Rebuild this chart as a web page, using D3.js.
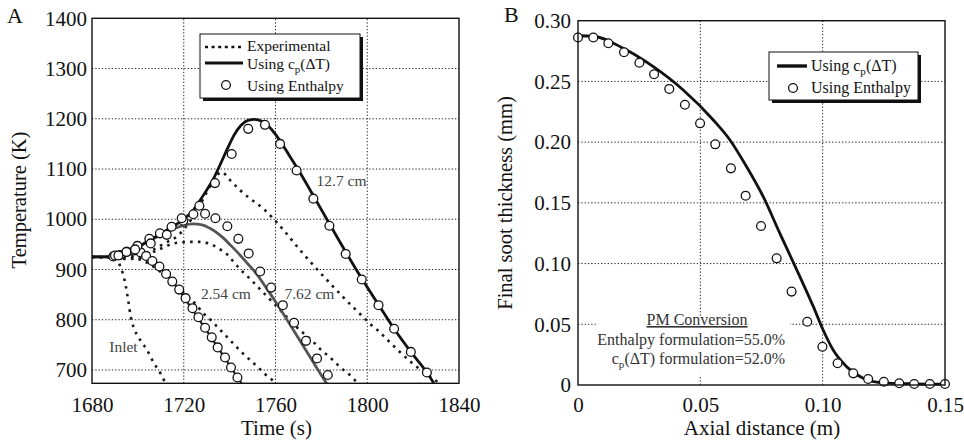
<!DOCTYPE html>
<html><head><meta charset="utf-8">
<script src="https://cdn.jsdelivr.net/npm/d3@7/dist/d3.min.js"></script>
<style>
body{margin:0;background:#fff}
svg{display:block}
text{font-family:"Liberation Serif","Times New Roman",serif}
</style>
</head><body>
<svg id="c" width="964" height="445"></svg>
<script>
// ---------- Panel A data ----------
const timeTicks = [1680, 1720, 1760, 1800, 1840];
const tempTicks = [700, 800, 900, 1000, 1100, 1200, 1300, 1400];

// Experimental (dotted) [time s, temperature K]
const expInlet = [[1680,925],[1690,925],[1691.3,918],[1692.2,908],[1693.7,888],[1694.7,868],[1695.8,838],[1696.9,806],[1698.7,779],[1701.7,755],[1704.1,739],[1706,722],[1708.2,705],[1710,692],[1711.8,676],[1712.2,672]];
const exp254 = [[1680,925],[1690,925],[1695,926],[1700,921],[1705,911],[1710,895],[1715,876],[1720,854],[1725.6,829],[1728.5,813],[1732.2,798],[1735,784],[1738,770],[1740.9,756],[1743.8,742],[1746.7,729],[1749.6,717],[1752.5,705],[1755.4,692],[1758.3,681],[1760,674]];
const exp762 = [[1680,925],[1690,924],[1695,921],[1700,922],[1704,929],[1708.2,938],[1711.8,945],[1714.7,951],[1719,954],[1723.4,955],[1727,955],[1730,953],[1732.9,948],[1736.5,938],[1739.4,928],[1741.6,916],[1744.5,901],[1747.4,888],[1750.3,875],[1753,862],[1756.2,847],[1760,829],[1765,805],[1770.7,779],[1775.8,759],[1779.4,742],[1784.5,722],[1788.1,706],[1792.2,691],[1794.6,680],[1795.8,674]];
const exp127 = [[1680,925],[1690,924],[1700,928],[1706,938],[1712,953],[1717.6,968],[1722.7,996],[1727,1028],[1731,1062],[1734,1085],[1736.5,1094],[1740.2,1078],[1744.5,1058],[1748.1,1044],[1754.7,1021],[1763.4,979],[1771.2,936],[1778,901],[1780.8,887],[1783.7,873],[1789.5,845],[1795.4,818],[1798.3,805],[1801.2,792],[1804.8,778],[1807.7,765],[1812.8,742],[1820,712],[1828,685],[1832,672]];

// Using cp(dT) (solid)
const cp254 = [[1680,925],[1690,925],[1694,929],[1698,932],[1701,929],[1704,922],[1707,913],[1709.6,903],[1712.5,890],[1715.4,875],[1718,859],[1720.5,842],[1723.5,822],[1726.3,803],[1729.3,783],[1732.2,763],[1735,744],[1738,723],[1740.5,706],[1742.3,693],[1745.3,673]];
const cp762 = [[1680,925],[1688,925],[1692,929],[1696,936],[1700,945],[1705,957],[1710,969],[1715,980],[1720,988],[1724,991],[1728,989],[1731.4,982],[1734.5,973],[1737.2,963],[1740.5,948],[1744.5,929],[1748,911],[1751.8,891],[1756.2,862],[1762,822],[1768,778],[1774,734],[1778,704],[1782.3,673]];
const cp127 = [[1680,925],[1688,925],[1692,928],[1696,935],[1700,944],[1704.5,957],[1710,971],[1715,985],[1720,1000],[1724,1017],[1727,1037],[1730,1058],[1733,1081],[1736,1110],[1739,1140],[1742,1168],[1745,1187],[1748,1197],[1751,1199],[1754,1195],[1757,1185],[1760,1169],[1763,1149],[1766,1127],[1769.2,1104],[1776.5,1047],[1783.5,991],[1790.6,935],[1797.6,882],[1804.9,830],[1811.7,782],[1819,736],[1826,695],[1829,674]];

// Using Enthalpy (circles)
const enth254 = [[1689.3,926],[1692.3,929],[1695.2,935],[1698.5,938],[1701.2,934],[1703.6,927],[1706.3,917],[1709.4,906],[1712.3,891],[1715.0,876],[1718.0,860],[1720.8,843],[1723.8,823],[1726.4,805],[1729.3,784],[1732.2,765],[1734.8,745],[1738.0,725],[1740.6,705],[1743.4,685]];
const enth762 = [[1690.0,928],[1695.0,935],[1699.8,947],[1705.0,961],[1709.6,972],[1714.7,985],[1719.8,997],[1724.2,1010],[1729.3,1011],[1733.8,1002],[1739.0,986],[1743.8,961],[1748.3,932],[1753.3,896],[1758.1,864],[1763.2,829],[1768.1,794],[1773.3,758],[1778.1,723],[1782.8,690]];
const enth127 = [[1691.5,928],[1698.8,940],[1705.6,952],[1712.6,969],[1719.1,1002],[1726.8,1027],[1733.6,1072],[1740.9,1130],[1748.1,1180],[1755.4,1188],[1762.0,1150],[1769.2,1097],[1776.5,1041],[1783.5,987],[1790.6,931],[1797.6,880],[1804.9,829],[1811.7,782],[1819.0,736],[1826.0,695]];

// label text, centre time, baseline temperature
const curveLabels = [["12.7 cm",1788.8,1067],["2.54 cm",1738.4,842],["7.62 cm",1774.8,842],["Inlet",1693.7,735]];

// ---------- Panel B data ----------
const distTicks = [0, 0.05, 0.10, 0.15];
const distTickLabels = ["0", "0.05", "0.10", "0.15"];
const sootTicks = [0, 0.05, 0.10, 0.15, 0.20, 0.25, 0.30];
const sootTickLabels = ["0", "0.05", "0.10", "0.15", "0.20", "0.25", "0.30"];

const distCp = [0,0.0063,0.0185,0.0308,0.043,0.0553,0.0621,0.0689,0.0757,0.0825,0.088,0.0962,0.1002,0.1043,0.1098,0.1166,0.1234,0.137,0.15];
const sootCp = [0.2876,0.2872,0.2773,0.2621,0.2429,0.2182,0.2018,0.1798,0.1551,0.1249,0.101,0.0645,0.0453,0.0288,0.0151,0.0055,0.002,0.001,0.0007];
const distEnth = [0,0.00626,0.0124,0.0188,0.0251,0.0311,0.0373,0.0437,0.0499,0.0561,0.0625,0.0685,0.0748,0.0812,0.0873,0.0937,0.0999,0.1061,0.1125,0.1186,0.1250,0.1313,0.1374,0.1438,0.15];
const sootEnth = [0.2862,0.2862,0.2814,0.274,0.2654,0.2559,0.2438,0.2308,0.2155,0.1982,0.1784,0.1559,0.1309,0.1043,0.0769,0.0521,0.0315,0.0179,0.0096,0.0049,0.0027,0.0014,0.0008,0.0008,0.0008];

const pmLines = ["PM Conversion", "Enthalpy formulation=55.0%", "formulation=52.0%"];

// ---------- Drawing ----------
const svg = d3.select("#c");
const FONT = '"Liberation Serif","Times New Roman",serif';

function cpText(sel, prefix, suffix, fs, sub) {
  sel.append("tspan").text(prefix + "c");
  sel.append("tspan").attr("dy", sub).attr("font-size", fs * 0.7).text("p");
  sel.append("tspan").attr("dy", -sub).text("(\u0394T)" + suffix);
}

function panelFrame(g, x, y) {
  const [x0, x1] = x.range(); const [y0, y1] = y.range();
  g.append("rect").attr("x", x0).attr("y", y1).attr("width", x1 - x0).attr("height", y0 - y1)
    .attr("fill", "none").attr("stroke", "#111").attr("stroke-width", 1.4);
}

function gridlines(g, x, y, xs, ys) {
  const [x0, x1] = x.range(); const [y0, y1] = y.range();
  g.selectAll(null).data(xs).enter().append("line")
    .attr("x1", d => x(d)).attr("x2", d => x(d)).attr("y1", y0).attr("y2", y1)
    .attr("stroke", "#222").attr("stroke-width", 1).attr("stroke-dasharray", "1.3,2");
  g.selectAll(null).data(ys).enter().append("line")
    .attr("y1", d => y(d)).attr("y2", d => y(d)).attr("x1", x0).attr("x2", x1)
    .attr("stroke", "#222").attr("stroke-width", 1).attr("stroke-dasharray", "1.3,2");
}

function styleAxis(g) {
  g.select(".domain").remove();
  g.selectAll("text").attr("font-family", FONT).attr("font-size", 21).attr("fill", "#111");
}

// ===== Panel A =====
const xA = d3.scaleLinear().domain([1680, 1840]).range([92, 459]);
const yA = d3.scaleLinear().domain([673.5, 1400]).range([383.3, 18.3]);
const gA = svg.append("g");

gridlines(gA, xA, yA, [1720, 1760, 1800], [700, 800, 900, 1000, 1100, 1200, 1300]);

gA.append("clipPath").attr("id", "clipA").append("rect")
  .attr("x", 92).attr("y", 18.3).attr("width", 367).attr("height", 365);

const lineA = d3.line().x(d => xA(d[0])).y(d => yA(d[1])).curve(d3.curveMonotoneX);
const plotA = gA.append("g").attr("clip-path", "url(#clipA)");

[expInlet, exp254, exp762, exp127].forEach(s => {
  plotA.append("path").attr("d", lineA(s)).attr("fill", "none")
    .attr("stroke", "#1a1a1a").attr("stroke-width", 2.6).attr("stroke-dasharray", "2.6,5.2");
});
plotA.append("path").attr("d", lineA(cp254)).attr("fill", "none").attr("stroke", "#222").attr("stroke-width", 2.2);
plotA.append("path").attr("d", lineA(cp762)).attr("fill", "none").attr("stroke", "#555").attr("stroke-width", 2.8);
plotA.append("path").attr("d", lineA(cp127)).attr("fill", "none").attr("stroke", "#111").attr("stroke-width", 2.8);

[enth254, enth762, enth127].forEach(s => {
  gA.selectAll(null).data(s).enter().append("circle")
    .attr("cx", d => xA(d[0])).attr("cy", d => yA(d[1])).attr("r", 4.4)
    .attr("fill", "#fff").attr("stroke", "#111").attr("stroke-width", 1.3);
});

gA.selectAll(null).data(curveLabels).enter().append("text")
  .attr("x", d => xA(d[1])).attr("y", d => yA(d[2]))
  .attr("text-anchor", "middle").attr("font-size", 15.5).attr("fill", "#444")
  .text(d => d[0]);

// Legend A
const legA = gA.append("g");
legA.append("rect").attr("x", 203).attr("y", 37).attr("width", 160).attr("height", 64).attr("fill", "#111");
legA.append("rect").attr("x", 200).attr("y", 34).attr("width", 160).attr("height", 64)
  .attr("fill", "#fff").attr("stroke", "#111").attr("stroke-width", 1);
legA.append("line").attr("x1", 205).attr("x2", 243).attr("y1", 47).attr("y2", 47)
  .attr("stroke", "#111").attr("stroke-width", 2.6).attr("stroke-dasharray", "3,3.6");
legA.append("line").attr("x1", 205).attr("x2", 243).attr("y1", 63).attr("y2", 63)
  .attr("stroke", "#111").attr("stroke-width", 3);
legA.append("circle").attr("cx", 226).attr("cy", 85).attr("r", 4.4)
  .attr("fill", "#fff").attr("stroke", "#111").attr("stroke-width", 1.3);
legA.append("text").attr("x", 247).attr("y", 51).attr("font-size", 15.5).attr("fill", "#111").text("Experimental");
cpText(legA.append("text").attr("x", 247).attr("y", 68.5).attr("font-size", 15.5).attr("fill", "#111"), "Using ", "", 15.5, 4);
legA.append("text").attr("x", 247).attr("y", 90.5).attr("font-size", 15.5).attr("fill", "#111").text("Using Enthalpy");

panelFrame(gA, xA, yA);

gA.append("g").attr("transform", "translate(0,383.3)")
  .call(d3.axisBottom(xA).tickValues(timeTicks).tickFormat(d3.format("d")).tickSize(0).tickPadding(13.5))
  .call(styleAxis);
gA.append("g").attr("transform", "translate(92,0)")
  .call(d3.axisLeft(yA).tickValues(tempTicks).tickFormat(d3.format("d")).tickSize(0).tickPadding(5))
  .call(styleAxis);

gA.append("text").attr("x", 276.5).attr("y", 435).attr("text-anchor", "middle").attr("font-size", 21).attr("fill", "#111").text("Time (s)");
gA.append("text").attr("transform", "translate(26,200) rotate(-90)").attr("text-anchor", "middle")
  .attr("font-size", 20.5).attr("fill", "#111").text("Temperature (K)");
gA.append("text").attr("x", 7).attr("y", 23).attr("font-size", 22).attr("fill", "#111").text("A");

// ===== Panel B =====
const xB = d3.scaleLinear().domain([0, 0.15]).range([578, 945]);
const yB = d3.scaleLinear().domain([0, 0.30]).range([385, 20.7]);
const gB = svg.append("g");

gridlines(gB, xB, yB, [0.05, 0.10], [0.05, 0.10, 0.15, 0.20, 0.25]);

// PM conversion annotation (white backing hides grid)
gB.append("rect").attr("x", 597).attr("y", 316).attr("width", 193).attr("height", 59).attr("fill", "#fff");

const lineB = d3.line().x(d => xB(d[0])).y(d => yB(d[1])).curve(d3.curveMonotoneX);
gB.append("path").attr("d", lineB(d3.zip(distCp, sootCp))).attr("fill", "none")
  .attr("stroke", "#111").attr("stroke-width", 2.8);
gB.selectAll(null).data(d3.zip(distEnth, sootEnth)).enter().append("circle")
  .attr("cx", d => xB(d[0])).attr("cy", d => yB(d[1])).attr("r", 4.4)
  .attr("fill", "#fff").attr("stroke", "#111").attr("stroke-width", 1.3);

gB.append("text").attr("x", 697).attr("y", 325).attr("text-anchor", "middle").attr("font-size", 16)
  .attr("fill", "#333").attr("text-decoration", "underline").text(pmLines[0]);
gB.append("text").attr("x", 785).attr("y", 345).attr("text-anchor", "end").attr("font-size", 16)
  .attr("fill", "#333").text(pmLines[1]);
cpText(gB.append("text").attr("x", 785).attr("y", 364).attr("text-anchor", "end").attr("font-size", 16).attr("fill", "#333"), "", " " + pmLines[2], 16, 4);

// Legend B
const legB = gB.append("g");
legB.append("rect").attr("x", 772).attr("y", 55).attr("width", 149).attr("height", 48).attr("fill", "#111");
legB.append("rect").attr("x", 769).attr("y", 52).attr("width", 149).attr("height", 48)
  .attr("fill", "#fff").attr("stroke", "#111").attr("stroke-width", 1);
legB.append("line").attr("x1", 777).attr("x2", 807).attr("y1", 66).attr("y2", 66)
  .attr("stroke", "#111").attr("stroke-width", 3.4);
legB.append("circle").attr("cx", 793).attr("cy", 88).attr("r", 4.4)
  .attr("fill", "#fff").attr("stroke", "#111").attr("stroke-width", 1.3);
cpText(legB.append("text").attr("x", 811).attr("y", 71).attr("font-size", 16).attr("fill", "#111"), "Using ", "", 16, 4);
legB.append("text").attr("x", 811).attr("y", 93).attr("font-size", 16).attr("fill", "#111").text("Using Enthalpy");

panelFrame(gB, xB, yB);

gB.append("g").attr("transform", "translate(0,385)")
  .call(d3.axisBottom(xB).tickValues(distTicks).tickFormat((d, i) => distTickLabels[i]).tickSize(0).tickPadding(12))
  .call(styleAxis);
gB.append("g").attr("transform", "translate(578,0)")
  .call(d3.axisLeft(yB).tickValues(sootTicks).tickFormat((d, i) => sootTickLabels[i]).tickSize(0).tickPadding(7))
  .call(styleAxis);

gB.append("text").attr("x", 762).attr("y", 435).attr("text-anchor", "middle").attr("font-size", 21).attr("fill", "#111").text("Axial distance (m)");
gB.append("text").attr("transform", "translate(512,203) rotate(-90)").attr("text-anchor", "middle")
  .attr("font-size", 20.5).attr("fill", "#111").text("Final soot thickness (mm)");
gB.append("text").attr("x", 504).attr("y", 22).attr("font-size", 22).attr("fill", "#111").text("B");
</script>
</body></html>
